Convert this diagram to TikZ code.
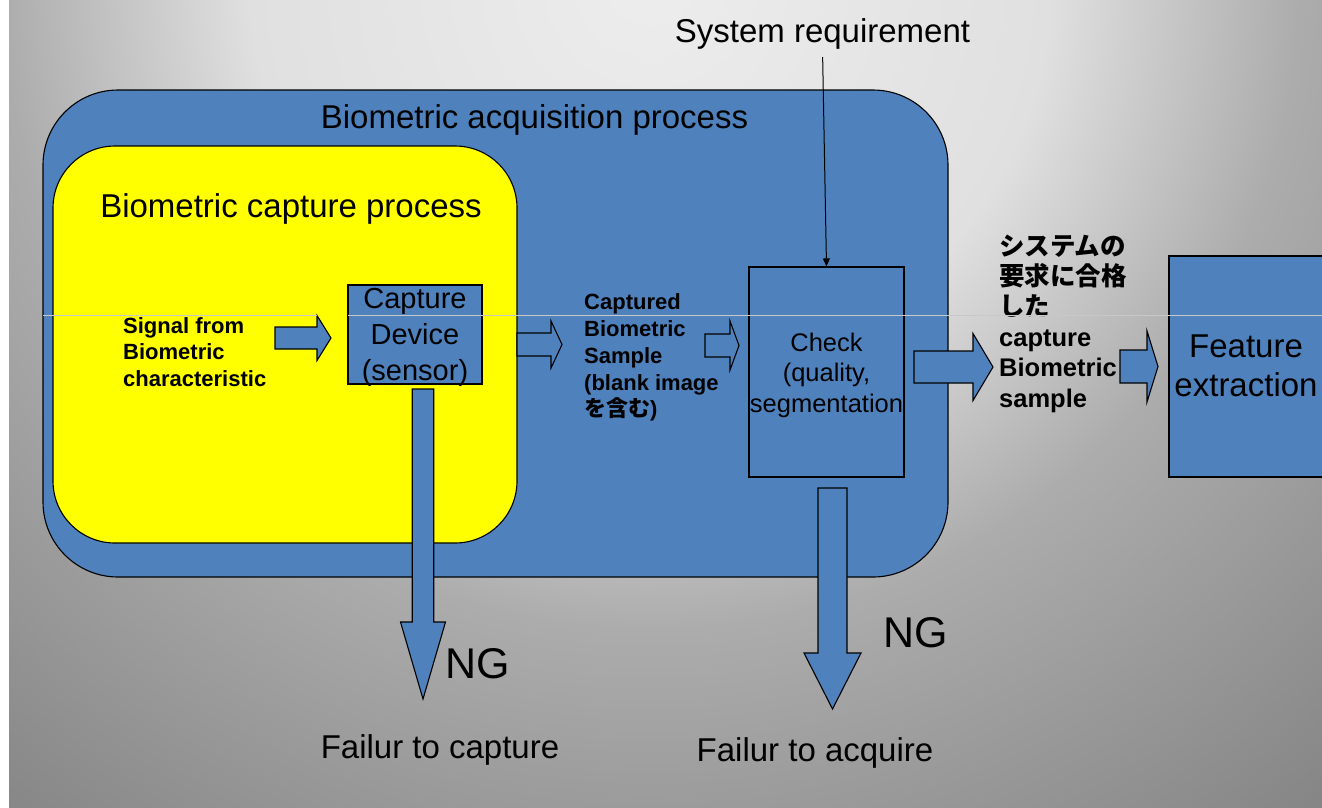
\documentclass[tikz,border=0pt]{standalone}
\usepackage{fontspec}
\setmainfont{Liberation Sans}
\newfontfamily\jpfont{Noto Sans CJK JP}
\usepackage{tikz}
\usetikzlibrary{shapes,positioning,arrows.meta}

\definecolor{boxblue}{HTML}{4F81BD}
\definecolor{capyellow}{HTML}{FFFF00}
\definecolor{bgA}{HTML}{EDEDED}
\definecolor{bgB}{HTML}{E0E0E0}
\definecolor{bgC}{HTML}{ACACAC}
\definecolor{bgD}{HTML}{999999}
\definecolor{bgE}{HTML}{828282}
\definecolor{scanline}{HTML}{C8C8C8}

% stops scaled so that 25bp is the circle's radius
\pgfdeclareradialshading{bgglow}{\pgfpoint{0bp}{0bp}}{color(0bp)=(bgA);
  color(9.09bp)=(bgB); color(14.77bp)=(bgC); color(19.32bp)=(bgD);
  color(25bp)=(bgE); color(50bp)=(bgE)}

% tail x, tip x, mid y, half shaft, half head, head length
\newcommand{\rightblock}[6]{%
  \draw[blockarrow] (#1,#3-#4) -- (#2-#6,#3-#4) -- (#2-#6,#3-#5) -- (#2,#3)
    -- (#2-#6,#3+#5) -- (#2-#6,#3+#4) -- (#1,#3+#4) -- cycle;}
% mid x, tail y, tip y, half shaft, half head, head length
\newcommand{\downblock}[6]{%
  \draw[blockarrow] (#1-#4,#2) -- (#1+#4,#2) -- (#1+#4,#3-#6) -- (#1+#5,#3-#6)
    -- (#1,#3) -- (#1-#5,#3-#6) -- (#1-#4,#3-#6) -- cycle;}

\begin{document}
\begin{tikzpicture}[x=1pt, y=-1pt,
    blk/.style={draw=black, fill=boxblue, line width=1.1pt, inner sep=0pt},
    blockarrow/.style={draw=black, fill=boxblue, line width=1.1pt, line join=miter},
    bigtxt/.style={font=\fontsize{33}{39}\selectfont, inner sep=0pt},
    devtxt/.style={font=\fontsize{29}{36}\selectfont, inner sep=0pt, align=center},
    checktxt/.style={font=\fontsize{25.5}{30.5}\selectfont, inner sep=0pt, align=center},
    ngtxt/.style={font=\fontsize{43}{50}\selectfont, inner sep=0pt},
    boldtxt/.style={font=\fontsize{22}{26.7}\selectfont\bfseries, inner sep=0pt, align=left},
    passtxt/.style={font=\fontsize{25.5}{30.4}\selectfont\bfseries, inner sep=0pt, align=left}]

  \useasboundingbox (0,0) rectangle (1322,807);
  \fill[white] (0,0) rectangle (1322,807);
  \begin{scope}
    \clip (9,0) rectangle (1322,807);
    \shade[shading=bgglow] (650,-20) circle (1100);
  \end{scope}

  \node[blk, rounded corners=75pt, minimum width=905pt, minimum height=487pt]
    (acq) at (495.5,333.5) {};
  \node[draw=black, fill=capyellow, line width=1.1pt, rounded corners=62pt,
    minimum width=464pt, minimum height=397pt] (capture) at (285,344.5) {};

  \node[bigtxt, anchor=base] (acqlabel) at (534.5,128) {Biometric acquisition process};
  \node[bigtxt, anchor=base] (caplabel) at (291,217) {Biometric capture process};
  \node[bigtxt, anchor=base] (sysreq) at (822.5,42) {System requirement};

  \node[boldtxt, anchor=west] (signal) at (123,352)
    {Signal from\\Biometric\\characteristic};
  \node[blk, minimum width=134pt, minimum height=99pt] (dev) at (415,334.5) {};
  \node[devtxt] (devtext) at (415,337.5) {Capture\\Device\\(sensor)};

  \node[boldtxt, anchor=west] (sample) at (584,357.7)
    {Captured\\Biometric\\Sample\\(blank image\\{\jpfont を含む})};

  \node[blk, minimum width=155pt, minimum height=210pt] (check) at (826.5,372) {};
  \node[checktxt] (checktext) at (826.5,375) {Check\\(quality,\\segmentation};

  \node[passtxt, anchor=west] (passed) at (999,323.5)
    {{\jpfont システムの}\\{\jpfont 要求に合格}\\{\jpfont した}\\capture\\Biometric\\sample};

  \node[blk, minimum width=170pt, minimum height=221pt] (feature) at (1254,366.5) {};
  \node[bigtxt, align=center] (feattext) at (1246,365.5) {Feature\\extraction};

  \rightblock{275}{331}{338}{11}{22.5}{14}
  \rightblock{517}{562}{344.5}{11.5}{23.5}{11}
  \rightblock{705}{739}{345.5}{11.5}{24.5}{9}
  \rightblock{914}{993}{367}{16}{33.5}{20}
  \rightblock{1120}{1158}{366.5}{16.5}{35.5}{11}

  \downblock{423}{389}{699}{10.75}{22.5}{77}
  \downblock{832.5}{488}{709}{14.5}{28.5}{56}

  \draw[-{Triangle[length=8pt,width=7pt]}, line width=1pt, shorten <=8pt]
    (sysreq.south) -- (check.north);

  \node[ngtxt, anchor=base] (ngcap) at (478,678) {NG};
  \node[ngtxt, anchor=base] (ngacq) at (916,647) {NG};
  \node[bigtxt, anchor=base] (failcap) at (440,758) {Failur to capture};
  \node[bigtxt, anchor=base] (failacq) at (815,761) {Failur to acquire};

  \draw[scanline, line width=0.8pt] (43,315) -- (317,315);
  \draw[scanline, line width=0.8pt] (348,315) -- (1322,315);
\end{tikzpicture}
\end{document}
